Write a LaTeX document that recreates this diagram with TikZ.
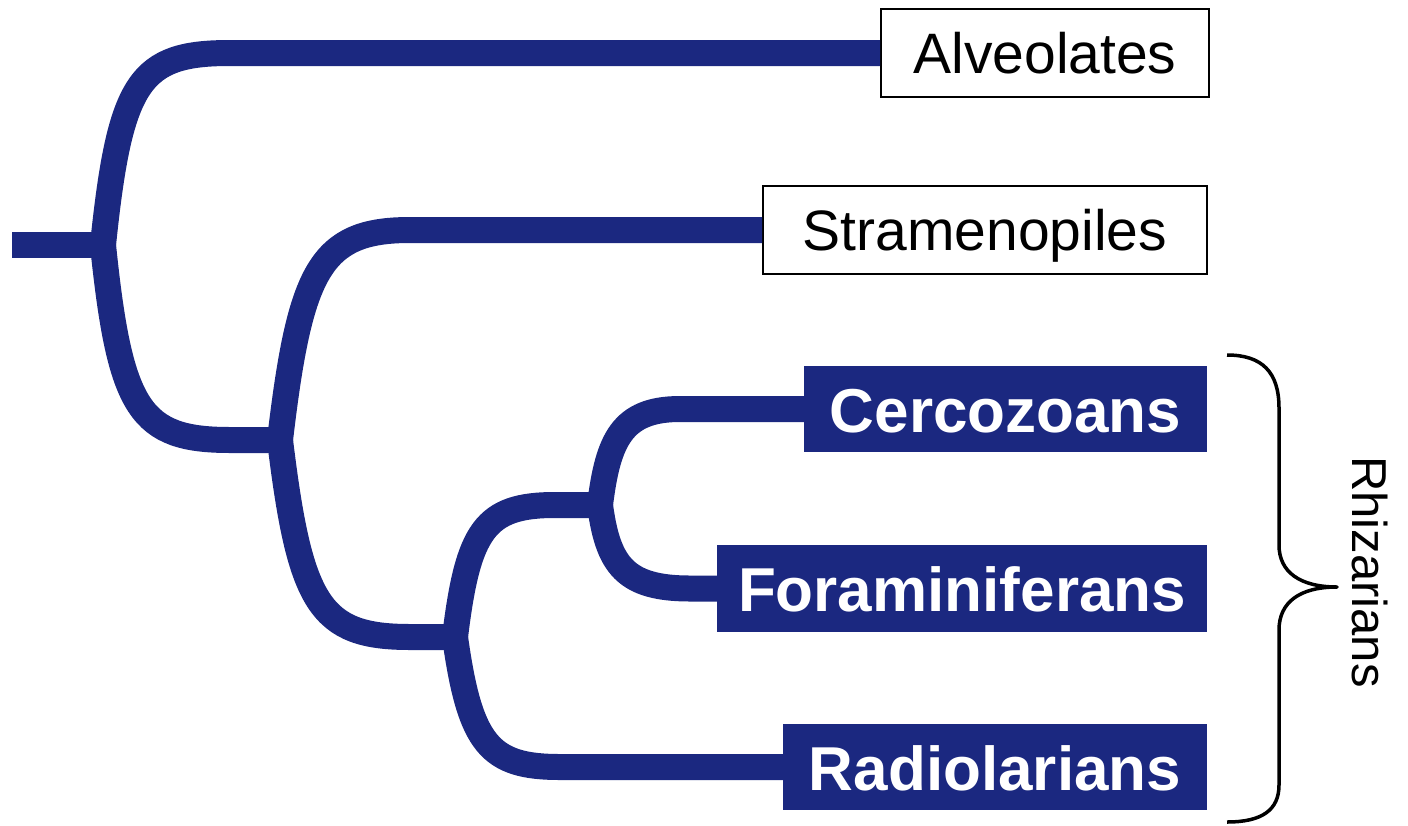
\documentclass[tikz,border=0pt]{standalone}
\usepackage{fontspec}
\setmainfont{Liberation Sans}
\definecolor{navy}{RGB}{27,40,128}
\begin{document}
\begin{tikzpicture}[x=1pt,y=-1pt,
  branch/.style={line width=26pt, draw=navy},
  whitebox/.style={draw=black, line width=2pt, fill=white, minimum height=88pt, inner sep=0pt,
    text height=40pt, text depth=0pt, font=\fontsize{57}{60}\selectfont},
  bluebox/.style={fill=navy, text=white, minimum height=86pt, inner sep=0pt,
    text height=46pt, text depth=0pt, font=\fontsize{62}{66}\selectfont\bfseries},
  bracestroke/.style={draw=black, line width=3.5pt, line join=round}]
\useasboundingbox (0,0) rectangle (1408,825);
\fill[white] (0,0) rectangle (1408,825);

% leaf labels
\node[whitebox, minimum width=328pt] (alv)  at (1045,53)  {Alveolates};
\node[whitebox, minimum width=444pt] (stra) at (985,230)  {Stramenopiles};
\node[bluebox,  minimum width=403pt] (cerc) at (1005.5,409) {Cercozoans};
\node[bluebox,  minimum width=490pt, minimum height=87pt] (fora) at (962,588.5) {Foraminiferans};
\node[bluebox,  minimum width=424pt] (radi) at (995,767)  {Radiolarians};

% junctions
\coordinate (root) at (12,245);
\coordinate (j1) at (103,245);
\coordinate (j2) at (280,440);
\coordinate (j3) at (455,637);
\coordinate (j4) at (600,505);

% tree
\draw[branch] (root) -- (j1);
\draw[branch] (j1) .. controls (120,80) and (140,53) .. (230,53) -- (alv.west);
\draw[branch] (j1) .. controls (120,410) and (140,440) .. (230,440) -- (j2);
\draw[branch] (j2) .. controls (300,270) and (320,230) .. (410,230) -- (stra.west);
\draw[branch] (j2) .. controls (300,605) and (320,637) .. (410,637) -- (j3);
\draw[branch] (j3) .. controls (468,530) and (485,505) .. (555,505) -- (j4);
\draw[branch] (j3) .. controls (470,745) and (490,767) .. (560,767) -- (radi.west);
\draw[branch] (j4) .. controls (608,440) and (622,409) .. (680,409) -- (cerc.west);
\draw[branch] (j4) .. controls (608,565) and (625,588.5) .. (690,588.5) -- (fora.west);

% brace
\coordinate (btop) at (1227,355);
\coordinate (btip) at (1337,587);
\coordinate (bbot) at (1227,822);
\draw[bracestroke] (btop) .. controls (1262,355) and (1279,372) .. (1279,408)
  -- (1279,545) .. controls (1279,572) and (1300,587) .. (btip)
  .. controls (1300,587) and (1279,602) .. (1279,630)
  -- (1279,785) .. controls (1279,810) and (1262,822) .. (bbot);

\node[rotate=-90, font=\fontsize{49}{52}\selectfont] (rhiz) at (1370,572) {Rhizarians};
\end{tikzpicture}
\end{document}
